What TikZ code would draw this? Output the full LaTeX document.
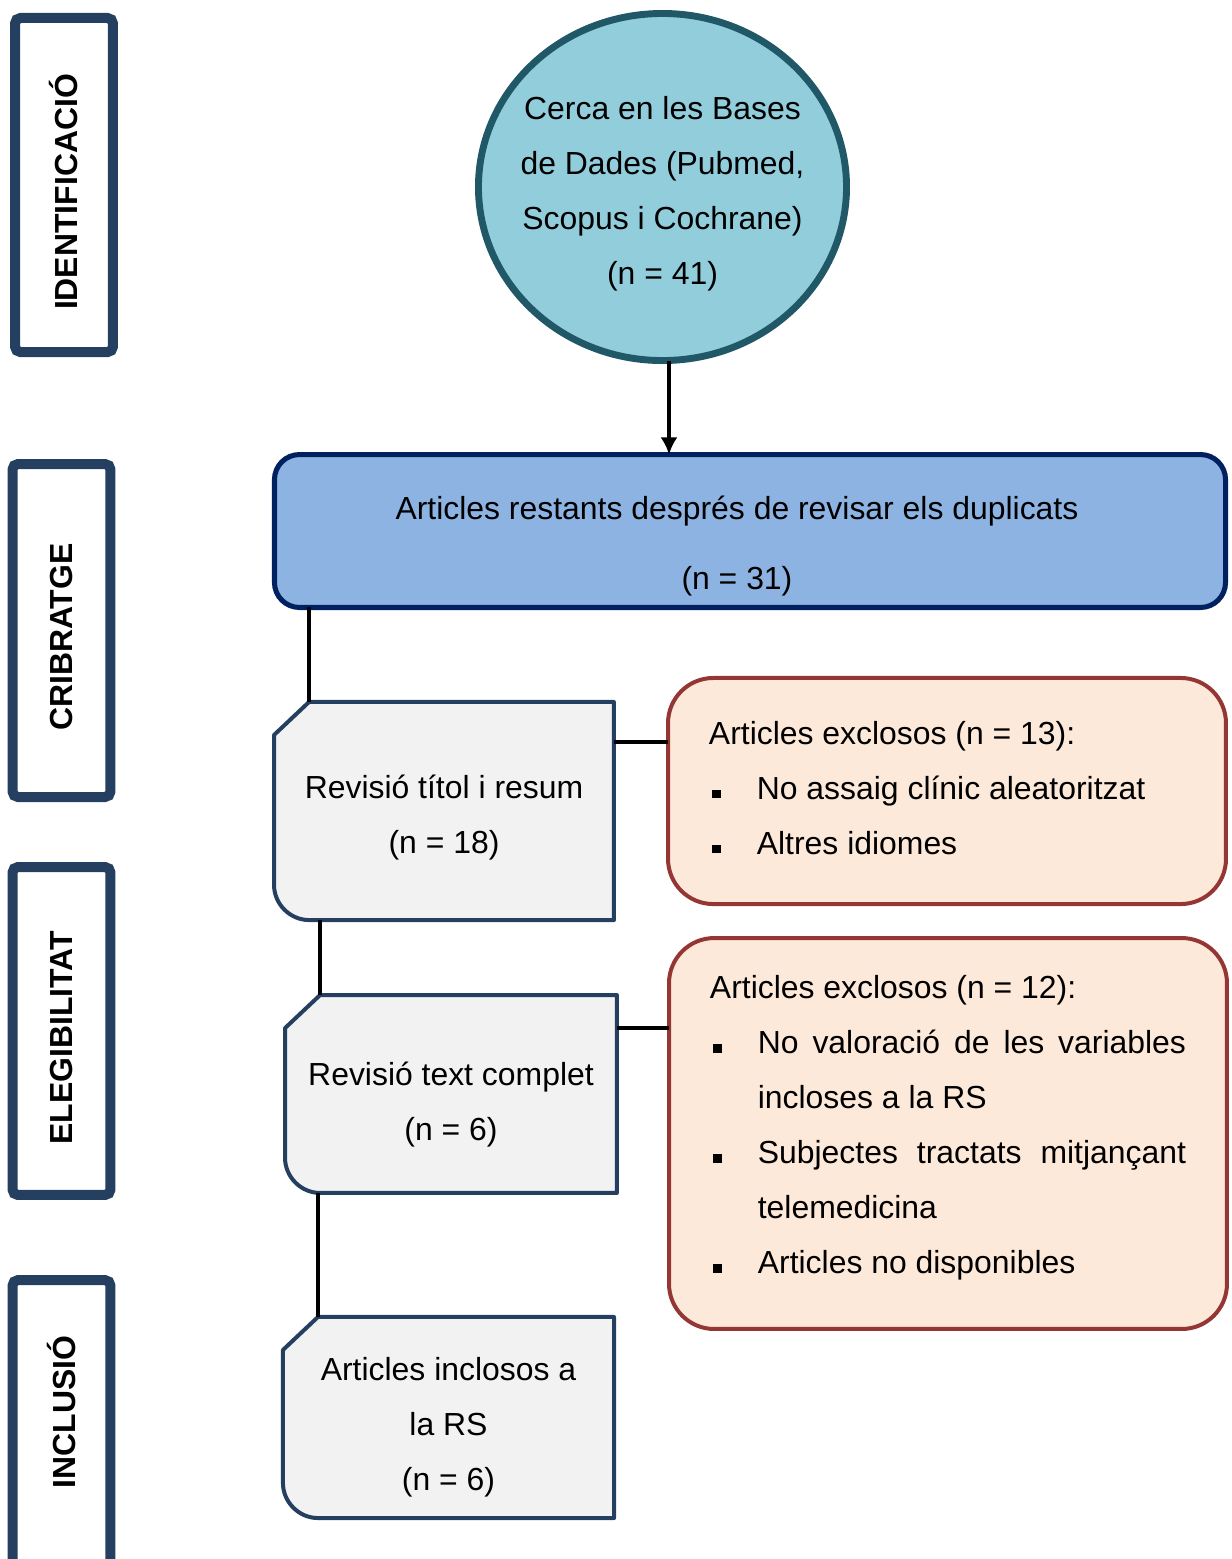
\documentclass[tikz,border=0pt]{standalone}
\usepackage{fontspec}
\setmainfont{Liberation Sans}
\usetikzlibrary{arrows.meta,calc,shapes.geometric,backgrounds}
\definecolor{Navy}{HTML}{243F60}
\definecolor{Teal}{HTML}{215868}
\definecolor{Aqua}{HTML}{92CDDC}
\definecolor{DeepBlue}{HTML}{002060}
\definecolor{Cornflower}{HTML}{8DB3E2}
\definecolor{Paper}{HTML}{F2F2F2}
\definecolor{Brick}{HTML}{943634}
\definecolor{Peach}{HTML}{FDE9D9}
\newcommand\exclitem[1]{\par\hangindent=18pt\hangafter=1\noindent
  \makebox[18pt][l]{\hspace{1.2pt}\rule[0.3pt]{3.2pt}{3.2pt}}#1\par}

\begin{document}
\begin{tikzpicture}[
      x=0.376pt, y=-0.376pt,
      txt/.style={font={\fontsize{12}{20.7}\selectfont}},
      phase/.style={draw=Navy, line width=3.76pt, rounded corners=2pt, rotate=90,
                    minimum height=36.8pt, inner sep=0pt,
                    font={\fontsize{12}{14}\selectfont\bfseries}},
      search/.style={ellipse, draw=Teal, fill=Aqua, line width=2.6pt, outer sep=0pt,
                     minimum width=138.4pt, minimum height=130.5pt, inner sep=-10pt,
                     align=center, txt},
      dedup/.style={draw=DeepBlue, fill=Cornflower, line width=1.9pt, outer sep=0pt,
                    rounded corners=9.4pt, minimum width=357.6pt, minimum height=57.5pt,
                    align=center, txt},
      review/.style={outer sep=0pt, inner sep=0pt, align=center, txt},
      snip/.style={draw=Navy, fill=Paper, line width=1.5pt, line join=round},
      excl/.style={draw=Brick, fill=Peach, line width=1.5pt, outer sep=0pt,
                   rounded corners=17pt, minimum width=209.8pt, text width=179pt,
                   align=justify, txt},
      link/.style={draw=black, line width=1.5pt}
    ]
  \useasboundingbox (0,0) rectangle (1231,1559);
  \clip (0,0) rectangle (1231,1559);

  % phases on the left
  \node[phase, minimum width=125.6pt] (ident) at (64,185) {IDENTIFICACIÓ\hspace*{5.3pt}};
  \node[phase, minimum width=125.2pt] (crib) at (61.5,630.5) {CRIBRATGE\hspace*{5pt}};
  \node[phase, minimum width=123.3pt] (eleg) at (61.5,1031) {ELEGIBILITAT\hspace*{5pt}};
  \node[phase, minimum width=124pt] (inclphase) at (61.5,1445) {\hspace*{24.8pt}INCLUSIÓ};

  % flow
  \node[search] (search) at (662.5,187) {\rule{0pt}{14pt}Cerca en les Bases\\de Dades (Pubmed,\\Scopus i Cochrane)\\(n = 41)};
  \node[dedup] (dedup) at (750,531) {\rule{0pt}{20.3pt}Articles restants després de revisar els duplicats\hspace*{9.8pt}\\[5.6pt](n = 31)\hspace*{9.8pt}};
  \node[review, minimum width=127.8pt, minimum height=82pt] (rev1) at (444,811) {\rule{0pt}{14pt}Revisió títol i resum\\(n = 18)};
  \node[review, minimum width=124.8pt, minimum height=74.4pt] (rev2) at (451,1094) {\rule{0pt}{17pt}Revisió text complet\\(n = 6)};
  \node[review, minimum width=124.5pt, minimum height=75.6pt] (incl) at (448.5,1417.5) {\rule{0pt}{16.2pt}Articles inclosos a\\la RS\\(n = 6)};

  % exclusions
  \node[excl, minimum height=85pt] (excl1) at (947,791)
    {\tolerance=9999\hyphenpenalty=10000 Articles exclosos (n = 13):%
     \exclitem{No assaig clínic aleatoritzat}%
     \exclitem{Altres idiomes\rule[-2.6pt]{0pt}{0pt}}};
  \node[excl, minimum height=147pt] (excl2) at (948,1133.5)
    {\tolerance=9999\hyphenpenalty=10000 Articles exclosos (n = 12):%
     \exclitem{No valoració de les variables incloses a la RS}%
     \exclitem{Subjectes tractats mitjançant telemedicina}%
     \exclitem{Articles no disponibles\rule[-6.8pt]{0pt}{0pt}}};

  \begin{pgfonlayer}{background}
    \foreach \b in {rev1,rev2,incl}
      \draw[snip] ($(\b.north west)+(35,0)$) -- (\b.north east) -- (\b.south east)
        -- ($(\b.south west)+(35,0)$)
        .. controls ($(\b.south west)+(16,0)$) and ($(\b.south west)+(0,-16)$) .. ($(\b.south west)+(0,-35)$)
        -- ($(\b.north west)+(0,33)$) -- cycle;
  \end{pgfonlayer}

  % connectors
  \coordinate (arrtop) at ($(search.south)+(6.5,0)$);
  \coordinate (r1top) at ($(rev1.north west)+(35,0)$);
  \coordinate (r2top) at ($(rev2.north west)+(35,0)$);
  \coordinate (intop) at ($(incl.north west)+(35,0)$);
  \coordinate (r1out) at ($(rev1.north east)+(0,40)$);
  \coordinate (r2out) at ($(rev2.north east)+(0,33)$);
  \draw[link, -{Latex[length=6.5pt,width=6.5pt]}] (arrtop) -- (arrtop |- dedup.north);
  \draw[link] (r1top |- dedup.south) -- (r1top);
  \draw[link] (r2top |- rev1.south) -- (r2top);
  \draw[link] (intop |- rev2.south) -- (intop);
  \draw[link] (r1out) -- (r1out -| excl1.west);
  \draw[link] (r2out) -- (r2out -| excl2.west);
\end{tikzpicture}
\end{document}
